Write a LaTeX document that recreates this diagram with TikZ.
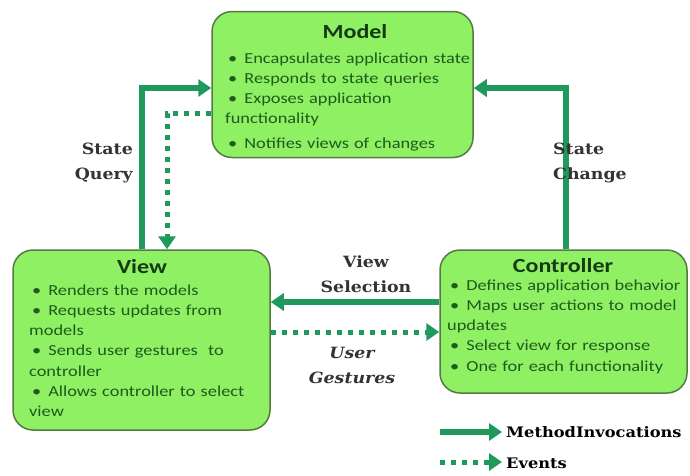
\documentclass[tikz,border=0pt]{standalone}
\usepackage{fontspec}
\usetikzlibrary{arrows.meta}
\newfontfamily\boxfont[FakeStretch=1.2]{Carlito}
\newfontfamily\labfont[FakeStretch=1.12]{DejaVu Serif}
\definecolor{arrowgreen}{HTML}{1F9A5C}
\definecolor{boxfill}{HTML}{8EF062}
\definecolor{boxedge}{HTML}{557A45}
\definecolor{boxtext}{HTML}{1F5A1F}
\definecolor{titletext}{HTML}{153A15}
\definecolor{labeltext}{HTML}{333333}
\tikzset{
  box/.style={draw=boxedge, line width=1.5pt, fill=boxfill, rounded corners=20pt, inner sep=0pt},
  boxtitle/.style={font=\boxfont\bfseries\fontsize{20}{22}\selectfont, text=titletext, inner sep=0pt, anchor=base},
  boxbody/.style={font=\boxfont\fontsize{15.3}{20.3}\selectfont, text=boxtext, align=left,
    text width=260pt, inner sep=0pt, anchor=base west},
  meth/.style={draw=arrowgreen, line width=6pt, -{Triangle[length=13pt,width=17pt]}},
  evt/.style={draw=arrowgreen, line width=5pt, dash pattern=on 5pt off 6pt, -{Triangle[length=13pt,width=17pt]}},
  lab/.style={font=\labfont\bfseries\fontsize{15.5}{25}\selectfont, text=labeltext, inner sep=0pt},
  legendtext/.style={font=\labfont\bfseries\fontsize{14.5}{16}\selectfont, text=black, inner sep=0pt, anchor=base west},
}
\newcommand{\bul}{\hspace{3pt}\textbullet\hspace{7pt}}
\begin{document}
\begin{tikzpicture}[x=1pt,y=-1pt]
\useasboundingbox (0,0) rectangle (690,475);

% the three components
\node[box, minimum width=261pt, minimum height=146pt] (model) at (342.5,84.5) {};
\node[box, minimum width=257pt, minimum height=180pt] (view) at (141.5,340) {};
\node[box, minimum width=247pt, minimum height=143pt] (ctrl) at (563.5,321.5) {};

\node[boxtitle] (modeltitle) at (355,38) {Model};
\node[boxbody] (modelbody) at (225,63) {\bul Encapsulates application state\\
\bul Responds to state queries\\
\bul Exposes application\\
functionality\\[4.5pt]
\bul Notifies views of changes};

\node[boxtitle] (viewtitle) at (142,273) {View};
\node[boxbody] (viewbody) at (29,295) {\bul Renders the models\\
\bul Requests updates from\\
models\\
\bul Sends user gestures\ \ to\\
controller\\
\bul Allows controller to select\\
view};

\node[boxtitle] (ctrltitle) at (563,272) {Controller};
\node[boxbody] (ctrlbody) at (447,290) {\bul Defines application behavior\\
\bul Maps user actions to model\\
updates\\
\bul Select view for response\\
\bul One for each functionality};

% connectors
\coordinate (sqbend) at (142,88);
\coordinate (evbend) at (167,113);
\coordinate (scbend) at (566,88);
\coordinate (vsrow) at (0,302);
\coordinate (ugrow) at (0,332);

\draw[meth] (sqbend |- view.north) -- (sqbend) -- (sqbend -| model.west);
\draw[evt] (evbend -| model.west) -- (evbend) -- (evbend |- view.north);
\draw[meth] (scbend |- ctrl.north) -- (scbend) -- (scbend -| model.east);
\draw[meth] (vsrow -| ctrl.west) -- (vsrow -| view.east);
\draw[evt] (ugrow -| view.east) -- (ugrow -| ctrl.west);

% connector labels
\node[lab, align=right, anchor=east] (sqlabel) at (133,163) {State\\Query};
\node[lab, align=left, anchor=west] (sclabel) at (553,163) {State\\Change};
\node[lab, align=center] (vslabel) at (366,274) {View\\Selection};
\node[lab, align=center, font=\labfont\bfseries\itshape\fontsize{15.5}{25}\selectfont] (uglabel) at (352,365) {User\\Gestures};

% legend
\node[legendtext] (legmeth) at (506,437) {MethodInvocations};
\node[legendtext] (legevt) at (506,468) {Events};
\coordinate (legmethstart) at (440,432);
\coordinate (legevtstart) at (440,462);
\draw[meth, shorten >=4pt] (legmethstart) -- (legmethstart -| legmeth.west);
\draw[evt, shorten >=4pt] (legevtstart) -- (legevtstart -| legevt.west);
\end{tikzpicture}
\end{document}
